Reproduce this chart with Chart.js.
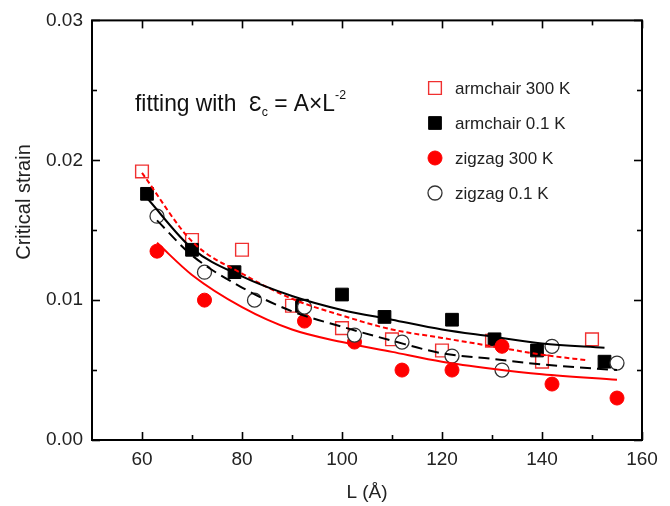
<!DOCTYPE html>
<html>
<head>
<meta charset="utf-8">
<script src="https://cdn.jsdelivr.net/npm/chart.js@4/dist/chart.umd.min.js"></script>
<style>
  html, body { margin: 0; background: #fff; }
  #wrap { width: 670px; height: 506px; }
</style>
</head>
<body>
<div id="wrap"><canvas id="strainChart"></canvas></div>
<script>
const armchair300L = [60, 70, 80, 90, 100, 110, 120, 130, 140, 150];
const armchair300Strain = [0.0192, 0.0143, 0.0136, 0.0096, 0.0080, 0.0072, 0.0064, 0.0071, 0.0056, 0.0072];

const armchair01L = [61, 70, 78.5, 92, 100, 108.5, 122, 130.5, 139, 152.5];
const armchair01Strain = [0.0176, 0.0136, 0.0120, 0.0096, 0.0104, 0.0088, 0.0086, 0.0072, 0.0064, 0.0056];

const zigzag300L = [63, 72.5, 92.5, 102.5, 112, 122, 132, 142, 155];
const zigzag300Strain = [0.0135, 0.0100, 0.0085, 0.0070, 0.0050, 0.0050, 0.0067, 0.0040, 0.0030];

const zigzag01L = [63, 72.5, 82.5, 92.5, 102.5, 112, 122, 132, 142, 155];
const zigzag01Strain = [0.0160, 0.0120, 0.0100, 0.0095, 0.0075, 0.0070, 0.0060, 0.0050, 0.0067, 0.0055];

// fitted curves, sampled from the figure
const fitArmchair300L = [60, 70, 80, 90, 100, 110, 120, 130, 140, 149];
const fitArmchair300Strain = [0.0191, 0.0142, 0.0119, 0.0101, 0.0089, 0.0079, 0.0073, 0.0067, 0.0061, 0.0057];

const fitArmchair01L = [61, 70, 80, 90, 100, 110, 120, 130, 140, 152.5];
const fitArmchair01Strain = [0.0173, 0.0137, 0.0117, 0.0103, 0.0093, 0.0086, 0.0079, 0.0074, 0.0069, 0.0066];

const fitZigzag300L = [63, 70, 80, 90, 100, 110, 120, 130, 140, 155];
const fitZigzag300Strain = [0.0141, 0.0118, 0.0095, 0.0079, 0.0070, 0.0063, 0.0056, 0.0051, 0.0047, 0.0043];

const fitZigzag01L = [63, 70, 80, 90, 100, 110, 120, 130, 140, 155];
const fitZigzag01Strain = [0.0157, 0.0132, 0.0109, 0.0092, 0.0081, 0.0071, 0.0062, 0.0058, 0.0054, 0.0050];

const xTicks = [60, 80, 100, 120, 140, 160];
const xMinorTicks = [70, 90, 110, 130, 150];
const yTicks = [0, 0.01, 0.02, 0.03];
const yMinorTicks = [0.005, 0.015, 0.025];

const seriesLabels = ['armchair 300 K', 'armchair 0.1 K', 'zigzag 300 K', 'zigzag 0.1 K'];
const yTitle = 'Critical strain';

const RED = '#ff0000';
const FONT = 'Arial, "Liberation Sans", sans-serif';

const zip = (xs, ys) => xs.map((x, i) => ({ x, y: ys[i] }));

const pointSet = (label, xs, ys, style, order) => ({
  label,
  data: zip(xs, ys),
  showLine: false,
  order,
  ...style,
});

const fitSet = (xs, ys, color, dash, order) => ({
  label: 'fit',
  data: zip(xs, ys),
  showLine: true,
  pointRadius: 0,
  borderColor: color,
  borderWidth: 2,
  borderDash: dash,
  cubicInterpolationMode: 'monotone',
  fill: false,
  order,
});

const markerStyles = [
  { pointStyle: 'rect', pointRadius: 9, pointBackgroundColor: '#fff', pointBorderColor: '#f03030', pointBorderWidth: 1.4 },
  { pointStyle: 'rect', pointRadius: 9, pointBackgroundColor: '#000', pointBorderColor: '#000', pointBorderWidth: 1 },
  { pointStyle: 'circle', pointRadius: 7, pointBackgroundColor: RED, pointBorderColor: RED, pointBorderWidth: 1 },
  { pointStyle: 'circle', pointRadius: 7, pointBackgroundColor: '#fff', pointBorderColor: '#333', pointBorderWidth: 1.3 },
];

// inward ticks on all four sides plus the box
const framePlugin = {
  id: 'frame',
  afterDatasetsDraw(chart) {
    const { ctx, chartArea: a, scales: { x, y } } = chart;
    ctx.save();
    ctx.strokeStyle = '#000';
    const seg = (x1, y1, x2, y2) => {
      ctx.beginPath();
      ctx.moveTo(x1, y1);
      ctx.lineTo(x2, y2);
      ctx.stroke();
    };
    ctx.lineWidth = 1.6;
    const xTick = (v, len) => {
      const px = Math.round(x.getPixelForValue(v)) + 0.5;
      seg(px, a.bottom, px, a.bottom - len);
      seg(px, a.top, px, a.top + len);
    };
    const yTick = (v, len) => {
      const py = Math.round(y.getPixelForValue(v)) + 0.5;
      seg(a.left, py, a.left + len, py);
      seg(a.right, py, a.right - len, py);
    };
    xTicks.forEach((v) => xTick(v, 8));
    xMinorTicks.forEach((v) => xTick(v, 5));
    yTicks.forEach((v) => yTick(v, 8));
    yMinorTicks.forEach((v) => yTick(v, 5));
    ctx.lineWidth = 2;
    ctx.strokeRect(a.left, a.top, a.right - a.left, a.bottom - a.top);
    ctx.restore();
  },
  afterDraw(chart) {
    const { ctx } = chart;
    ctx.save();
    ctx.fillStyle = '#111';
    ctx.textBaseline = 'alphabetic';

    // y axis title
    ctx.save();
    ctx.translate(24, 202);
    ctx.rotate(-Math.PI / 2);
    ctx.textAlign = 'center';
    ctx.textBaseline = 'middle';
    ctx.font = `20px ${FONT}`;
    ctx.fillStyle = '#222';
    ctx.fillText(yTitle, 0, 0);
    ctx.restore();

    // formula note (glyphs in the figure are a little narrow)
    ctx.save();
    const sx = 0.95;
    ctx.translate(135, 111);
    ctx.scale(sx, 1);
    let cx = 0;
    const put = (txt, size, dy) => {
      ctx.font = `${size}px ${FONT}`;
      ctx.fillText(txt, cx, dy);
      cx += ctx.measureText(txt).width;
    };
    put('fitting with  ', 24, 0);
    put('\u0190', 22, 0);
    put('c', 13, 5);
    put(' = A\u00D7L', 24, 0);
    put('-2', 13, -12);
    ctx.restore();

    // legend
    const lx = 435;
    const rowY = [88, 123, 158, 193];
    ctx.font = `17px ${FONT}`;
    ctx.textBaseline = 'middle';
    seriesLabels.forEach((label, i) => {
      const yy = rowY[i];
      const s = markerStyles[i];
      ctx.fillStyle = s.pointBackgroundColor;
      ctx.strokeStyle = s.pointBorderColor;
      ctx.lineWidth = s.pointBorderWidth;
      ctx.beginPath();
      if (s.pointStyle === 'rect') {
        const h = s.pointRadius * Math.SQRT1_2;
        ctx.rect(lx - h, yy - h, 2 * h, 2 * h);
      } else {
        ctx.arc(lx, yy, s.pointRadius, 0, Math.PI * 2);
      }
      ctx.fill();
      ctx.stroke();
      ctx.fillStyle = '#222';
      ctx.fillText(label, 455, yy + 1);
    });
    ctx.restore();
  },
};

const ctx = document.getElementById('strainChart').getContext('2d');
new Chart(ctx, {
  type: 'scatter',
  data: {
    datasets: [
      pointSet(seriesLabels[0], armchair300L, armchair300Strain, markerStyles[0], 8),
      pointSet(seriesLabels[1], armchair01L, armchair01Strain, markerStyles[1], 7),
      pointSet(seriesLabels[2], zigzag300L, zigzag300Strain, markerStyles[2], 6),
      pointSet(seriesLabels[3], zigzag01L, zigzag01Strain, markerStyles[3], 5),
      fitSet(fitArmchair300L, fitArmchair300Strain, RED, [5, 3], 4),
      fitSet(fitArmchair01L, fitArmchair01Strain, '#000', [], 3),
      fitSet(fitZigzag300L, fitZigzag300Strain, RED, [], 2),
      fitSet(fitZigzag01L, fitZigzag01Strain, '#000', [11, 6], 1),
    ],
  },
  options: {
    responsive: true,
    maintainAspectRatio: false,
    animation: false,
    layout: { padding: { top: 17, right: 28, left: 0, bottom: 0 } },
    plugins: {
      legend: { display: false },
      tooltip: { enabled: false },
    },
    scales: {
      x: {
        type: 'linear',
        min: 50,
        max: 160,
        grid: { display: false, drawTicks: false },
        border: { display: false },
        afterBuildTicks: (scale) => { scale.ticks = xTicks.map((v) => ({ value: v })); },
        afterFit: (scale) => { scale.height = 66; },
        ticks: {
          padding: 8,
          color: '#222',
          font: { family: FONT, size: 19 },
          maxRotation: 0,
          autoSkip: false,
        },
        title: {
          display: true,
          text: 'L (\u00C5)',
          color: '#222',
          font: { family: FONT, size: 19 },
          padding: { top: 0, bottom: 2 },
        },
      },
      y: {
        type: 'linear',
        min: 0,
        max: 0.03,
        grid: { display: false, drawTicks: false },
        border: { display: false },
        afterBuildTicks: (scale) => { scale.ticks = yTicks.map((v) => ({ value: v })); },
        afterFit: (scale) => { scale.width = 92; },
        ticks: {
          padding: 9,
          color: '#222',
          font: { family: FONT, size: 19 },
          autoSkip: false,
          callback: (v) => Number(v).toFixed(2),
        },
        title: { display: false },
      },
    },
  },
  plugins: [framePlugin],
});
</script>
</body>
</html>
